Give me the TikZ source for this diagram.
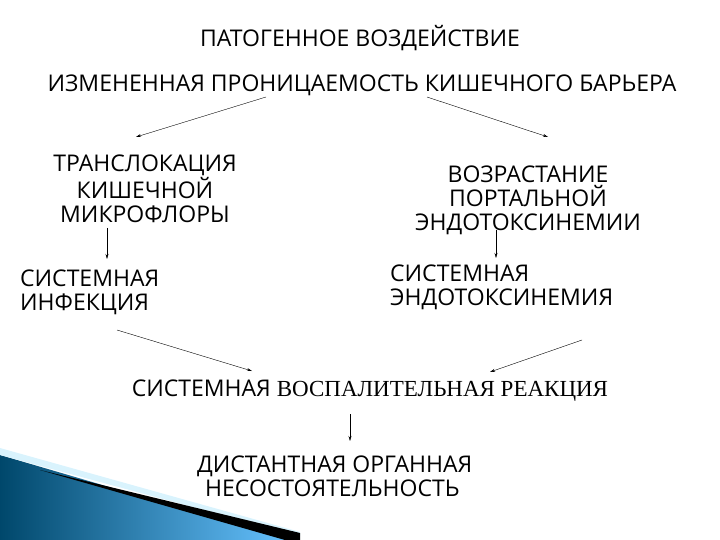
\documentclass[tikz,border=0pt]{standalone}
\usepackage{fontspec}
\usetikzlibrary{arrows.meta}
\setmainfont{Open Sans}
\newfontfamily\serifru{Liberation Serif}
\begin{document}
\begin{tikzpicture}[x=1pt,y=-1pt,
  lbl/.style={font=\fontsize{23}{24}\selectfont,inner sep=0pt,align=center},
  arr/.style={-{Stealth[length=5pt,width=3pt]},thin}]
\useasboundingbox (0,0) rectangle (720,540);
% decorative swoosh
\shade[left color=teal!80!blue!70!black,right color=cyan!60!blue!60] (0,455) -- (290,540) -- (0,540) -- cycle;
\fill[cyan!15] (0,448) -- (300,532) -- (300,536) -- (0,455) -- cycle;
\fill[black] (40,470) -- (300,533) -- (300,540) -- (285,540) -- cycle;
\node[lbl] (a) at (360,38) {ПАТОГЕННОЕ ВОЗДЕЙСТВИЕ};
\node[lbl] (b) at (362,85) {ИЗМЕНЕННАЯ ПРОНИЦАЕМОСТЬ КИШЕЧНОГО БАРЬЕРА};
\node[lbl] (c) at (145,189) {ТРАНСЛОКАЦИЯ\\КИШЕЧНОЙ\\МИКРОФЛОРЫ};
\node[lbl] (d) at (528,200) {ВОЗРАСТАНИЕ\\ПОРТАЛЬНОЙ\\ЭНДОТОКСИНЕМИИ};
\node[lbl,align=left,anchor=west] (e) at (20,292) {СИСТЕМНАЯ\\ИНФЕКЦИЯ};
\node[lbl,align=left,anchor=west] (f) at (390,287) {СИСТЕМНАЯ\\ЭНДОТОКСИНЕМИЯ};
\node[lbl] (g) at (370,391) {СИСТЕМНАЯ {\serifru\fontsize{23}{24}\selectfont ВОСПАЛИТЕЛЬНАЯ РЕАКЦИЯ}};
\node[lbl,align=left,anchor=west] (h) at (197,476) {ДИСТАНТНАЯ ОРГАННАЯ\\\hspace*{8pt}НЕСОСТОЯТЕЛЬНОСТЬ};
\coordinate (b1) at (266,97); \coordinate (c1) at (136,137);
\coordinate (b2) at (427,97); \coordinate (d1) at (548,137);
\coordinate (c2) at (107,228); \coordinate (e1) at (107,259);
\coordinate (d2) at (496,230); \coordinate (f1) at (496,258);
\coordinate (e2) at (117,330); \coordinate (g1) at (252,371);
\coordinate (f2) at (582,340); \coordinate (g2) at (490,372);
\coordinate (g3) at (350,414); \coordinate (h1) at (350,441);
\draw[arr] (b1) -- (c1);
\draw[arr] (b2) -- (d1);
\draw[arr] (c2) -- (e1);
\draw[arr] (d2) -- (f1);
\draw[arr] (e2) -- (g1);
\draw[arr] (f2) -- (g2);
\draw[arr] (g3) -- (h1);
\end{tikzpicture}
\end{document}
